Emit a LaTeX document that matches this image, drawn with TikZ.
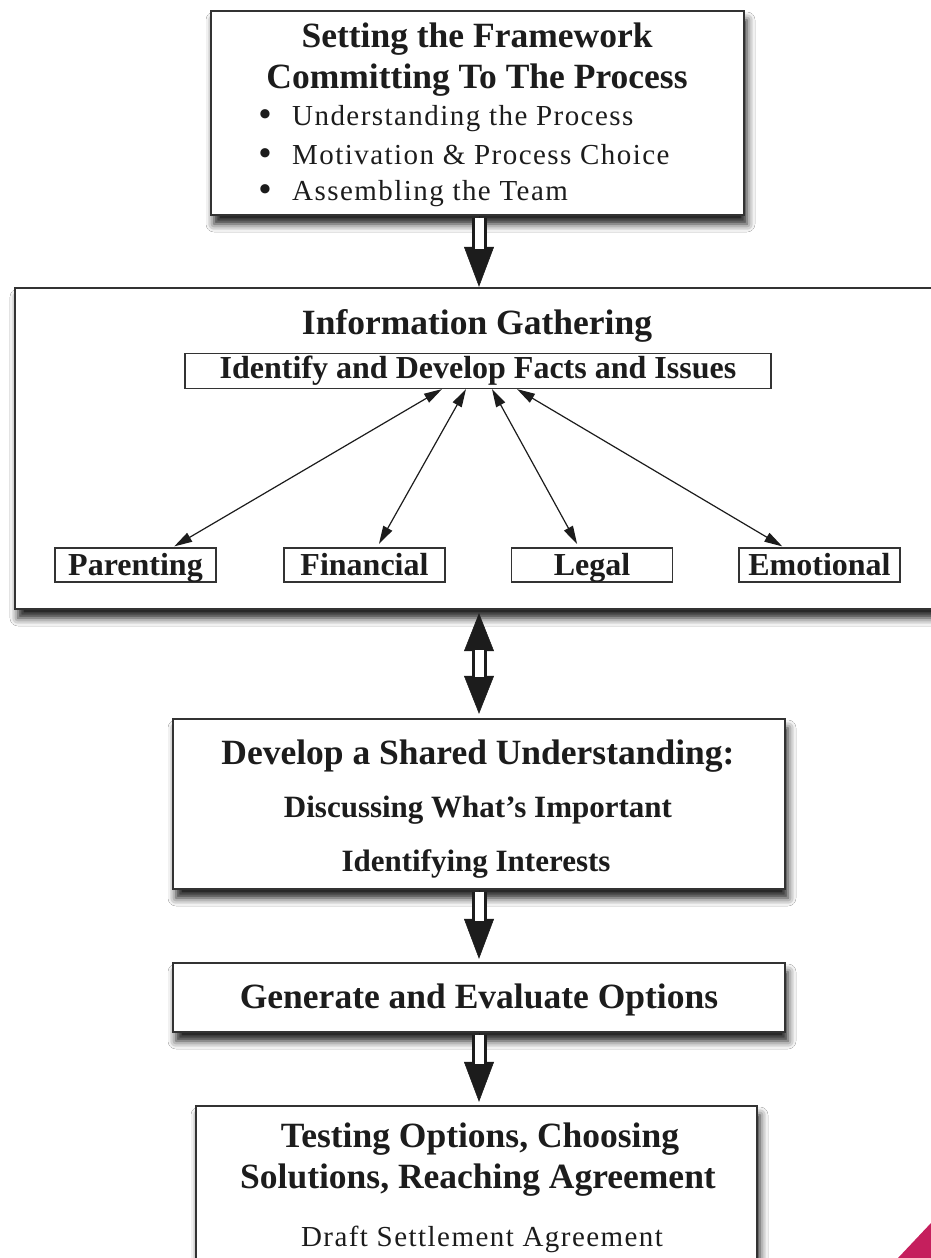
\documentclass[tikz,border=0pt]{standalone}
\usepackage{fontspec}
\setmainfont{Liberation Serif}
\newfontfamily\spacedfont[LetterSpace=5]{Liberation Serif}
\usetikzlibrary{arrows.meta,shadows.blur,calc}
\definecolor{boxline}{HTML}{333333}
\definecolor{ink}{HTML}{1C1C1C}
\definecolor{crimson}{HTML}{C51F5D}
\begin{document}
\begin{tikzpicture}[x=1pt,y=-1pt,
  box/.style={draw=boxline, line width=2.4pt, fill=white, rectangle, inner sep=0pt,
    blur shadow={shadow xshift=3pt, shadow yshift=-9pt, shadow blur radius=8pt, shadow opacity=90}},
  smallbox/.style={draw=boxline, line width=1.2pt, fill=white, inner sep=0pt,
    minimum height=34pt, minimum width=161pt, text height=23pt, text depth=3pt,
    font=\fontsize{32}{36}\selectfont\bfseries, text=ink},
  title/.style={font=\fontsize{35.5}{40}\selectfont\bfseries, text=ink, inner sep=0pt, anchor=base},
  subtitle/.style={font=\fontsize{31}{36}\selectfont\bfseries, text=ink, inner sep=0pt, anchor=base},
  plain/.style={font=\fontsize{29}{34}\selectfont\spacedfont, text=ink, inner sep=0pt, anchor=base},
  dot/.style={font=\fontsize{34}{34}\selectfont\bfseries, text=ink, inner sep=0pt, anchor=base},
  dbl/.style={{Triangle[length=18pt,width=10pt]}-{Triangle[length=18pt,width=10pt]}, line width=1.2pt, draw=ink},
  headone/.style={-{Triangle[length=40pt,width=30pt]}, line width=0.5pt, draw=ink, fill=ink},
  headtwo/.style={{Triangle[length=38pt,width=30pt]}-{Triangle[length=38pt,width=30pt]}, line width=0.5pt, draw=ink, fill=ink},
  shaft/.style={draw=ink, line width=3pt, double=white, double distance=9pt}
]
\useasboundingbox (0,0) rectangle (931,1258);
\clip (0,0) rectangle (931,1258);
\fill[white] (0,0) rectangle (931,1258);

% boxes
\node[box, minimum width=533pt, minimum height=204pt] (b1) at (477.5,113) {};
\node[box, minimum width=934pt, minimum height=321pt] (b2) at (482,448.5) {};
\node[box, minimum width=612pt, minimum height=170pt] (b3) at (479,804) {};
\node[box, minimum width=612pt, minimum height=69pt] (b4) at (479,997.5) {};
\node[box, minimum width=561pt, minimum height=188pt] (b5) at (476.5,1200) {};
\coordinate (ax) at (479,0);

% box 1 text
\node[title] (t1a) at (477,47) {Setting the Framework};
\node[title] (t1b) at (477,88) {Committing To The Process};
\node[dot] (d1) at (265,125) {•};
\node[dot] (d2) at (265,164) {•};
\node[dot] (d3) at (265,200) {•};
\node[plain, anchor=base west] (i1) at (292,125) {Understanding the Process};
\node[plain, anchor=base west] (i2) at (292,164) {Motivation \& Process Choice};
\node[plain, anchor=base west] (i3) at (292,200) {Assembling the Team};

% box 2 content
\node[title] (t2) at (477,334) {Information Gathering};
\node[smallbox, minimum width=586pt, minimum height=35pt, text height=22pt, text depth=7pt] (ifd) at (478,371) {Identify and Develop Facts and Issues};
\node[smallbox] (par) at (135.5,565) {Parenting};
\node[smallbox] (fin) at (364.5,565) {Financial};
\node[smallbox] (leg) at (592,565) {Legal};
\node[smallbox] (emo) at (819.5,565) {Emotional};
\draw[dbl, shorten <=2pt] ([xshift=37pt]par.north) -- ([xshift=-36pt]ifd.south);
\draw[dbl, shorten <=4pt] ([xshift=12.5pt]fin.north) -- ([xshift=-12pt]ifd.south);
\draw[dbl, shorten <=4pt] ([xshift=-13pt]leg.north) -- ([xshift=14pt]ifd.south);
\draw[dbl, shorten <=2pt] ([xshift=-35.5pt]emo.north) -- ([xshift=39pt]ifd.south);

% box 3 text
\node[title] (t3a) at (478,764) {Develop a Shared Understanding:};
\node[subtitle] (t3b) at (478,817) {Discussing What’s Important};
\node[subtitle] (t3c) at (476,871) {Identifying Interests};

% box 4 text
\node[title] (t4) at (479,1008) {Generate and Evaluate Options};

% box 5 text
\node[title] (t5a) at (480,1147) {Testing Options, Choosing};
\node[title] (t5b) at (478,1188) {Solutions, Reaching Agreement};
\node[plain] (t5c) at (482,1246) {Draft Settlement Agreement};

% block arrows
\draw[headone] (b1.south -| ax) -- (b2.north -| ax);
\draw[shaft, shorten <=1.5pt, shorten >=38pt] (b1.south -| ax) -- (b2.north -| ax);

\draw[headtwo, shorten <=3pt, shorten >=4pt] (b2.south -| ax) -- (b3.north -| ax);
\draw[shaft, shorten <=40pt, shorten >=41pt] (b2.south -| ax) -- (b3.north -| ax);

\draw[headone, shorten >=3pt] (b3.south -| ax) -- (b4.north -| ax);
\draw[shaft, shorten <=1.5pt, shorten >=41pt] (b3.south -| ax) -- (b4.north -| ax);

\draw[headone, shorten >=3pt] (b4.south -| ax) -- (b5.north -| ax);
\draw[shaft, shorten <=1.5pt, shorten >=41pt] (b4.south -| ax) -- (b5.north -| ax);

% corner mark
\fill[crimson] (898,1258) -- (931,1223) -- (931,1258) -- cycle;
\end{tikzpicture}
\end{document}
